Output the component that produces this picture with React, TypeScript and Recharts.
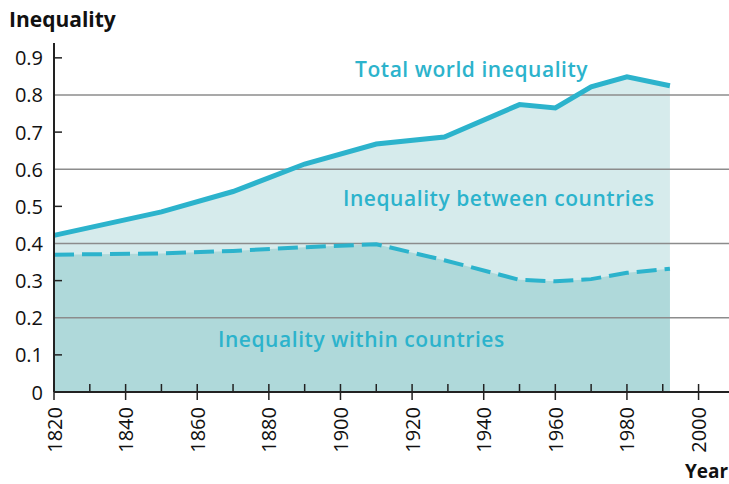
import { ComposedChart, Area, Line, XAxis, YAxis, ReferenceLine } from 'recharts';

const years = [1820, 1850, 1870, 1890, 1910, 1929, 1950, 1960, 1970, 1980, 1992];
const totalInequality = [0.422, 0.485, 0.54, 0.614, 0.668, 0.687, 0.774, 0.765, 0.822, 0.849, 0.825];
const withinInequality = [0.37, 0.373, 0.38, 0.39, 0.398, 0.355, 0.302, 0.298, 0.304, 0.321, 0.332];

const xTicks = [1820, 1830, 1840, 1850, 1860, 1870, 1880, 1890, 1900, 1910, 1920, 1930, 1940, 1950, 1960, 1970, 1980, 1990, 2000];
const yTicks = [0, 0.1, 0.2, 0.3, 0.4, 0.5, 0.6, 0.7, 0.8, 0.9];
const gridValues = [0.2, 0.4, 0.6, 0.8];

const data = years.map((year, i) => ({
  year,
  total: totalInequality[i],
  within: withinInequality[i],
}));

const TEAL = '#2cb3cc';
const FONT = '"Open Sans", "Noto Sans", sans-serif';

function XTick({ x, y, payload }: any) {
  const v = payload.value as number;
  const major = v % 20 === 0;
  return (
    <g>
      <line x1={x} x2={x} y1={y - 8} y2={major ? y + 8 : y} stroke="#222" strokeWidth={1.5} />
      {major && (
        <text
          x={x}
          y={y + 15}
          transform={`rotate(-90 ${x} ${y + 15})`}
          textAnchor="end"
          dominantBaseline="central"
          fontSize={20}
          fontFamily={FONT}
          fill="#111"
        >
          {v}
        </text>
      )}
    </g>
  );
}

function YTick({ x, y, payload }: any) {
  const v = payload.value as number;
  const odd = Math.round(v * 10) % 2 === 1;
  return (
    <g>
      {odd && <line x1={x} x2={x + 8} y1={y} y2={y} stroke="#222" strokeWidth={1.5} />}
      <text x={x - 11} y={y} textAnchor="end" dominantBaseline="central" fontSize={20} fontFamily={FONT} fill="#111">
        {v === 0 ? '0' : v.toFixed(1)}
      </text>
    </g>
  );
}

const label = (left: number, top: number, text: string) => (
  <div
    style={{
      position: 'absolute',
      left,
      top,
      fontFamily: FONT,
      fontWeight: 600,
      fontSize: 21,
      letterSpacing: 0.55,
      lineHeight: 'normal',
      color: TEAL,
      whiteSpace: 'nowrap',
    }}
  >
    {text}
  </div>
);

export default function App() {
  return (
    <div style={{ position: 'absolute', left: 0, top: 0, width: 729, height: 484, background: '#fff', overflow: 'hidden' }}>
      <div style={{ position: 'absolute', left: 9, top: 5, fontFamily: FONT, fontWeight: 700, fontSize: 21, color: '#111' }}>
        Inequality
      </div>
      <ComposedChart width={729} height={484} data={data} margin={{ top: 43, right: 0, bottom: 0, left: 0 }}>
        <XAxis
          dataKey="year"
          type="number"
          domain={[1820, 2008.5]}
          ticks={xTicks}
          interval={0}
          height={92}
          tickSize={0}
          tickMargin={0}
          tickLine={false}
          axisLine={{ stroke: '#222', strokeWidth: 2 }}
          tick={<XTick />}
        />
        <YAxis
          type="number"
          domain={[0, 0.94]}
          ticks={yTicks}
          interval={0}
          width={54}
          tickSize={0}
          tickMargin={0}
          tickLine={false}
          axisLine={{ stroke: '#222', strokeWidth: 2 }}
          tick={<YTick />}
        />
        <Area dataKey="total" type="linear" stroke="none" fill="#d6ebec" fillOpacity={1} isAnimationActive={false} />
        <Area dataKey="within" type="linear" stroke="none" fill="#afd9da" fillOpacity={1} isAnimationActive={false} />
        {gridValues.map((g) => (
          <ReferenceLine key={g} y={g} stroke="#8c8c8c" strokeWidth={1.5} />
        ))}
        <Line dataKey="total" type="linear" stroke={TEAL} strokeWidth={5} dot={false} isAnimationActive={false} />
        <Line
          dataKey="within"
          type="linear"
          stroke={TEAL}
          strokeWidth={4}
          strokeDasharray="20 8"
          dot={false}
          isAnimationActive={false}
        />
      </ComposedChart>
      {label(355, 55, 'Total world inequality')}
      {label(343, 184, 'Inequality between countries')}
      {label(218, 325, 'Inequality within countries')}
      <div style={{ position: 'absolute', left: 685, top: 458, fontFamily: FONT, fontWeight: 700, fontSize: 19, color: '#111' }}>
        Year
      </div>
    </div>
  );
}
